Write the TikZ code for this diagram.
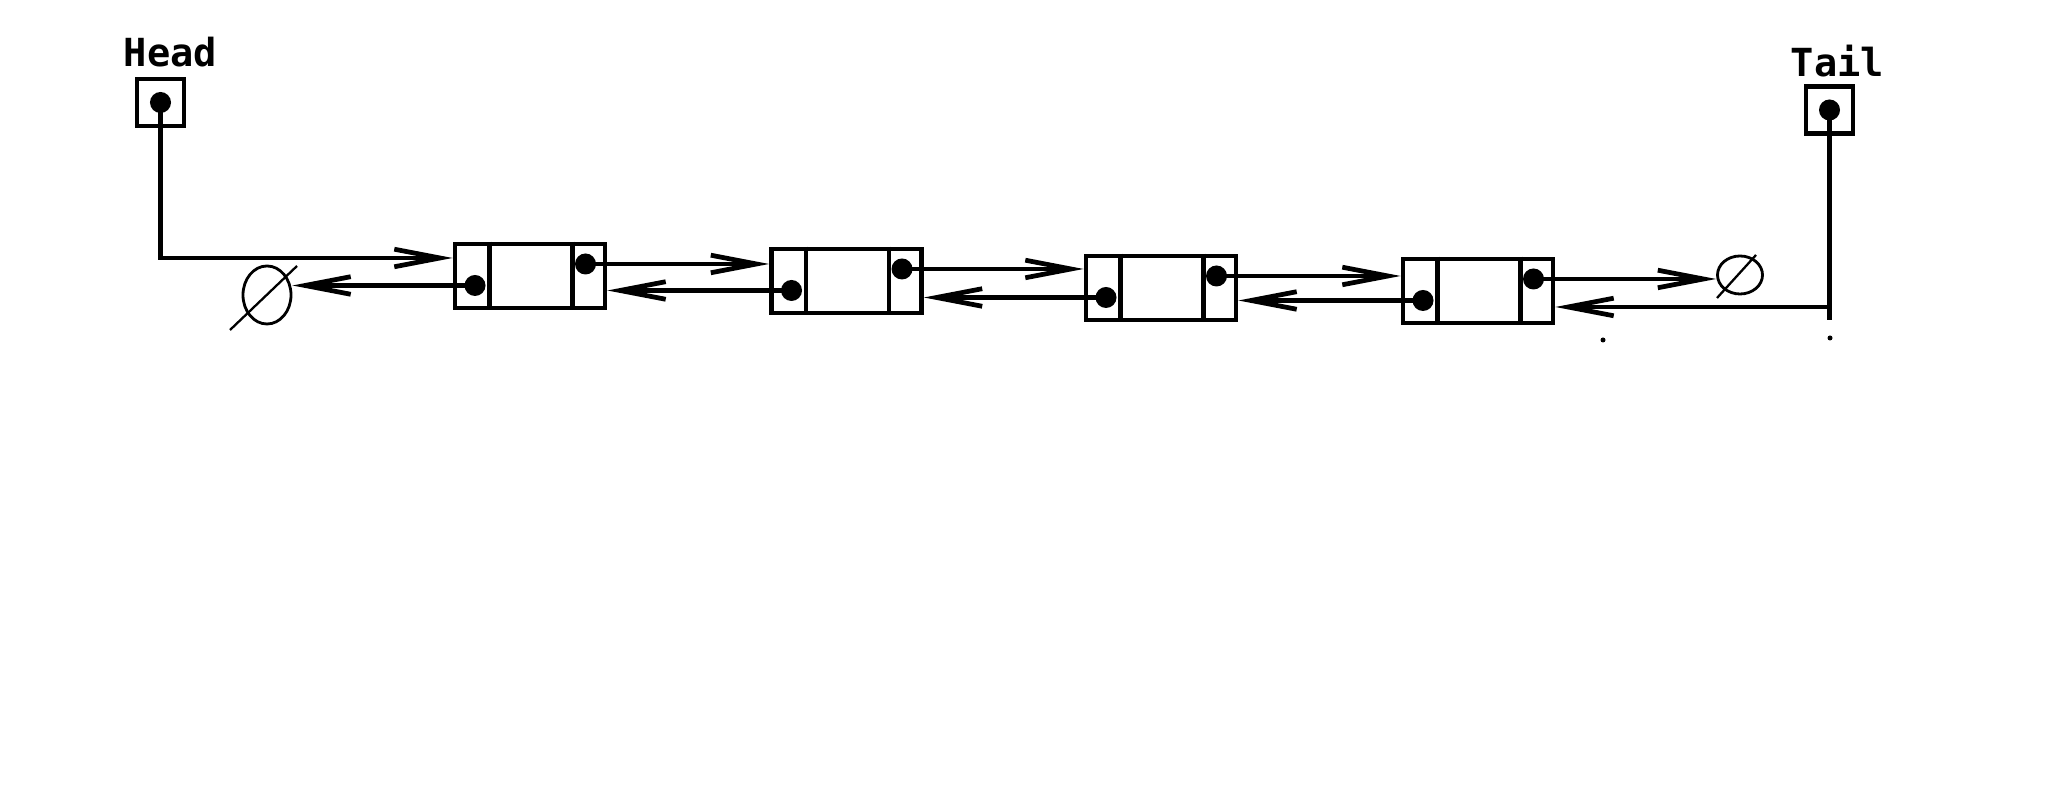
\documentclass[tikz,border=0pt]{standalone}
\usepackage{fontspec}
\newfontfamily\monofont{DejaVu Sans Mono}
\usetikzlibrary{arrows.meta,positioning,calc,shapes.geometric}

\begin{document}
\begin{tikzpicture}[
    x=0.01cm, y=-0.01cm,
    line width=1.35pt,
    cell/.style={rectangle, draw=black, line width=1.35pt, minimum width=1.5cm, minimum height=0.64cm, inner sep=0pt},
    ptrbox/.style={rectangle, draw=black, line width=1.35pt, minimum size=0.47cm, inner sep=0pt},
    nullsym/.style={ellipse, draw=black, line width=0.8pt, inner sep=0pt},
    slash/.style={line width=0.65pt},
    dot/.style={circle, fill=black, inner sep=0pt, minimum size=0.21cm},
    tag/.style={inner sep=0pt, font=\monofont\bfseries\fontsize{11pt}{13pt}\selectfont},
    ptr/.style={-{Straight Barb[length=13pt,width=5pt]}}
]
\useasboundingbox (0,0) rectangle (2072,798);

% head and tail pointers
\node[ptrbox] (head) at (160.5,102.5) {};
\node[ptrbox] (tail) at (1829.5,110) {};
\node[tag, above=0.07cm of head, xshift=0.1cm] (headtag) {Head};
\node[tag, above=0.05cm of tail, xshift=0.08cm] (tailtag) {Tail};

% list nodes
\node[cell] (n1) at (530,276) {};
\node[cell] (n2) at (846.5,281) {};
\node[cell] (n3) at (1161,288) {};
\node[cell] (n4) at (1478,291) {};

\foreach \n in {n1,n2,n3,n4} {
    \draw ($(\n.north west)+(37,0)$) -- ($(\n.south west)+(37,0)$);
    \draw ($(\n.north east)+(-35,0)$) -- ($(\n.south east)+(-35,0)$);
    \coordinate (\n l) at ($(\n.center)+(-55,9.5)$);
    \coordinate (\n r) at ($(\n.center)+(55.5,-12)$);
    \node[dot] at (\n l) {};
    \node[dot] at (\n r) {};
}

\node[dot] (hd) at (head.center) {};
\node[dot] (td) at (tail.center) {};

% null ends
\node[nullsym, minimum width=0.48cm, minimum height=0.58cm] (null1) at (267,295) {};
\node[nullsym, minimum width=0.45cm, minimum height=0.38cm] (null2) at (1740,275) {};
\draw[slash] ($(null1.center)+(-37,35)$) -- ($(null1.center)+(30,-29)$);
\draw[slash] ($(null2.center)+(-23,23)$) -- ($(null2.center)+(16,-20)$);

% links
\draw[ptr] (hd.center) |- ($(n1.west)+(0,-18)$);
\draw[ptr] (n1l) -- (n1l -| null1.east);
\draw[ptr] (n1r) -- (n1r -| n2.west);
\draw[ptr] (n2l) -- (n2l -| n1.east);
\draw[ptr] (n2r) -- (n2r -| n3.west);
\draw[ptr] (n3l) -- (n3l -| n2.east);
\draw[ptr] (n3r) -- (n3r -| n4.west);
\draw[ptr] (n4l) -- (n4l -| n3.east);
\draw[ptr] (n4r) -- (n4r -| null2.west);
\draw (td.center) -- ++(0,210);
\draw[ptr] (td.center) |- ($(n4.east)+(0,16)$);

% stray specks
\fill (1603,340) circle (2.5);
\fill (1830,338) circle (2.5);

\end{tikzpicture}
\end{document}
